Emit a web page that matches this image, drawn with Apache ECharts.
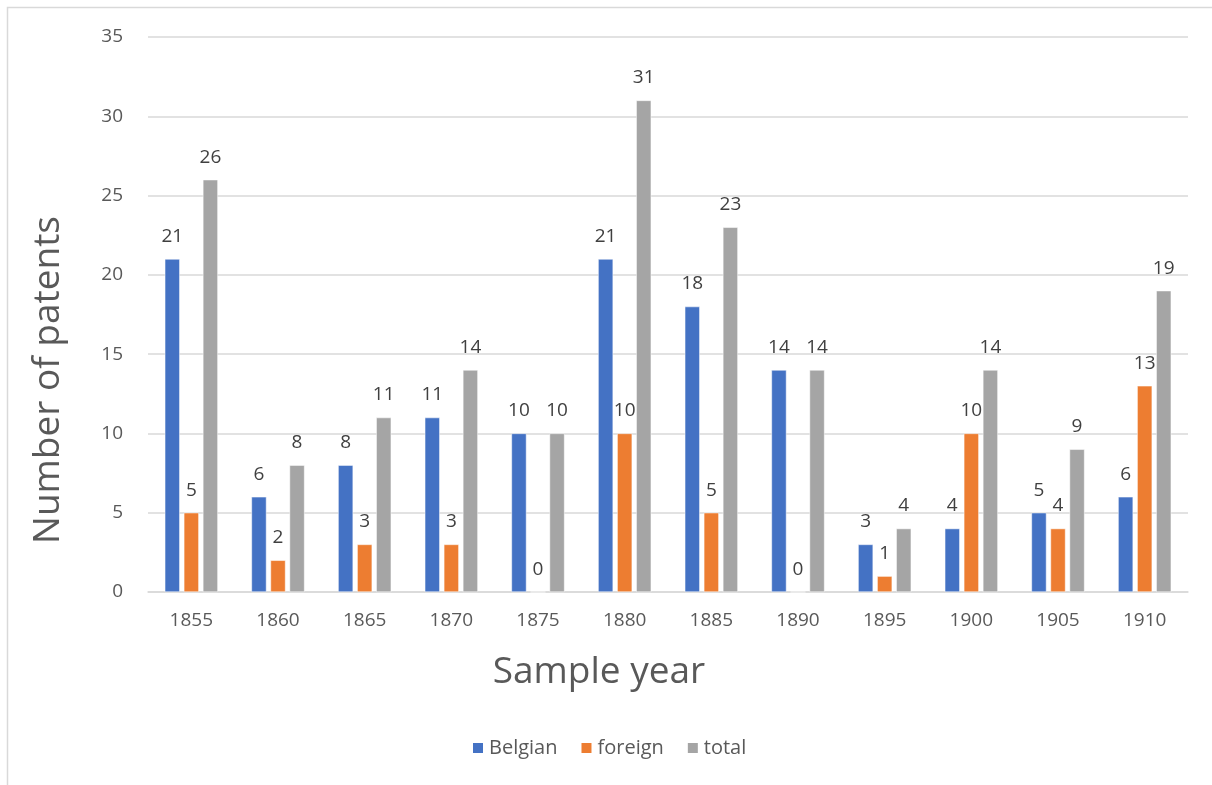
<!DOCTYPE html>
<html>
<head>
<meta charset="utf-8">
<script src="https://cdn.jsdelivr.net/npm/echarts@6/dist/echarts.min.js"></script>
<style>
  html, body { margin: 0; padding: 0; background: #fff; }
  #chart { width: 1212px; height: 785px; }
</style>
</head>
<body>
<div id="chart"></div>
<script>
const years = ["1855", "1860", "1865", "1870", "1875", "1880", "1885", "1890", "1895", "1900", "1905", "1910"];
const belgian = [21, 6, 8, 11, 10, 21, 18, 14, 3, 4, 5, 6];
const foreign = [5, 2, 3, 3, 0, 10, 5, 0, 1, 10, 4, 13];
const total = [26, 8, 11, 14, 10, 31, 23, 14, 4, 14, 9, 19];

const font = "'Open Sans', 'Noto Sans', sans-serif";
const textGray = "#595959";

const chart = echarts.init(document.getElementById("chart"));

function barSeries(name, data, color) {
  return {
    name,
    type: "bar",
    data,
    barWidth: 15,
    barGap: "27%",
    itemStyle: { color, borderColor: "#fff", borderWidth: 0.5 },
    label: {
      show: true,
      position: "top",
      distance: 13,
      color: "#404040",
      fontFamily: font,
      fontSize: 19,
    },
  };
}

chart.setOption({
  backgroundColor: "#fff",
  animation: false,
  graphic: [
    {
      type: "rect",
      shape: { x: 7.5, y: 7.5, width: 1210, height: 790 },
      style: { fill: "none", stroke: "#d9d9d9", lineWidth: 1.5 },
    },
    {
      // axis titles sit off-centre in the original, so place them by hand
      type: "text",
      x: 599,
      y: 672,
      style: {
        text: "Sample year",
        fill: textGray,
        font: "37px " + font,
        align: "center",
        verticalAlign: "middle",
      },
    },
    {
      type: "text",
      x: 48,
      y: 380,
      rotation: Math.PI / 2,
      style: {
        text: "Number of patents",
        fill: textGray,
        font: "37px " + font,
        align: "center",
        verticalAlign: "middle",
      },
    },
  ],
  grid: { left: 148, right: 24, top: 37, bottom: 193 },
  legend: {
    bottom: 22,
    left: 466,
    itemWidth: 12,
    itemHeight: 12,
    itemGap: 22,
    icon: "rect",
    textStyle: { color: textGray, fontFamily: font, fontSize: 20 },
    data: ["Belgian", "foreign", "total"],
  },
  xAxis: {
    type: "category",
    data: years,
    axisLine: { lineStyle: { color: "#d9d9d9", width: 1.5 } },
    axisTick: { show: false },
    axisLabel: { color: textGray, fontFamily: font, fontSize: 19, margin: 19 },
  },
  yAxis: {
    type: "value",
    min: 0,
    max: 35,
    interval: 5,
    axisLine: { show: false },
    axisTick: { show: false },
    axisLabel: { color: textGray, fontFamily: font, fontSize: 19, margin: 25 },
    splitLine: { lineStyle: { color: "#d9d9d9", width: 1.5 } },
  },
  series: [
    barSeries("Belgian", belgian, "#4472C4"),
    barSeries("foreign", foreign, "#ED7D31"),
    barSeries("total", total, "#A5A5A5"),
  ],
});
</script>
</body>
</html>
